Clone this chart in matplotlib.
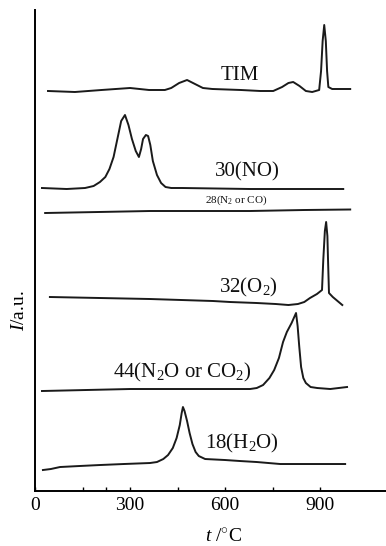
import matplotlib
matplotlib.use("Agg")
import matplotlib.pyplot as plt
from matplotlib.ticker import FixedLocator

plt.rcParams["font.family"] = "Liberation Serif"
plt.rcParams["mathtext.fontset"] = "custom"
plt.rcParams["mathtext.rm"] = "Liberation Serif"
plt.rcParams["mathtext.it"] = "Liberation Serif:italic"

# curves: temperature (°C) and intensity (a.u., stacked)
tim_t = [41, 126, 210, 300, 360, 410, 430, 455, 480, 505, 530, 560, 650, 711, 752,
         780, 800, 815, 835, 855, 875, 897, 903, 908, 913, 918, 922, 926, 938, 995]
tim_i = [400, 399, 401, 403, 401, 401, 403, 408, 411, 407, 403, 402, 401, 400, 400,
         404, 408, 409, 405, 400, 399, 401, 420, 450, 466, 450, 420, 404, 402, 402]

no_t = [22, 100, 158, 185, 205, 222, 235, 248, 260, 272, 284, 295, 306, 318, 328, 335,
        341, 350, 357, 364, 372, 385, 398, 412, 430, 464, 679, 973]
no_i = [303, 302, 303, 305, 309, 314, 322, 334, 352, 370, 376, 366, 352, 340, 334, 342,
        352, 356, 355, 346, 330, 316, 308, 304, 303, 303, 302, 302]

n2_t = [32, 200, 363, 500, 679, 850, 995]
n2_i = [278, 279, 280, 280, 280, 281, 281.5]

o2_t = [47, 363, 562, 616, 700, 760, 800, 830, 850, 868, 890, 906, 910, 915, 919, 923,
        925, 928, 940, 955, 970]
o2_i = [194, 192, 190, 189, 188, 187, 186, 187, 189, 193, 197, 201, 231, 260, 269, 255,
        231, 198, 194, 190, 186]

co2_t = [22, 300, 679, 700, 720, 740, 755, 770, 783, 795, 810, 824, 829, 834, 840, 847,
         855, 870, 891, 932, 985]
co2_i = [100, 102, 102, 103, 106, 113, 121, 133, 149, 159, 168, 178, 165, 145, 124, 113,
         108, 104, 103, 102, 104]

h2o_t = [25, 50, 79, 140, 205, 280, 363, 385, 405, 420, 435, 447, 457, 463, 467, 472,
         480, 488, 497, 507, 517, 537, 600, 647, 700, 774, 979]
h2o_i = [21, 22, 24, 25, 26, 27, 28, 29, 32, 36, 43, 53, 66, 78, 84, 80,
         70, 58, 47, 39, 35, 32, 31, 30, 29, 27, 27]

labels = ["TIM", "30(NO)", "28(N$_2$ or CO)", "32(O$_2$)", "44(N$_2$O or CO$_2$)", "18(H$_2$O)"]
label_t = [647, 669, 635, 673, 464, 654]
label_i = [415, 319, 291, 204, 119, 48]
label_size = [15, 15, 8, 15, 15, 15]

fig = plt.figure(figsize=(3.86, 5.46), dpi=100)
ax = fig.add_axes([0.0907, 0.1007, 0.9093, 0.881])

for t, i in [(tim_t, tim_i), (no_t, no_i), (n2_t, n2_i), (o2_t, o2_i),
             (co2_t, co2_i), (h2o_t, h2o_i)]:
    ax.plot(t, i, color="#1a1a1a", lw=1.4, solid_joinstyle="round")

for s, t, i, fs in zip(labels, label_t, label_i, label_size):
    ax.text(t, i, s, ha="center", va="center", fontsize=fs, color="#111111")

ax.set_xlim(0, 1108)
ax.set_ylim(0, 481)
ax.spines["top"].set_visible(False)
ax.spines["right"].set_visible(False)
ax.spines["left"].set_linewidth(1.4)
ax.spines["bottom"].set_linewidth(1.4)
ax.set_yticks([])
ax.set_xticks([0, 300, 600, 900])
ax.xaxis.set_minor_locator(FixedLocator([150, 225, 450, 750]))
ax.tick_params(axis="x", which="both", direction="in", length=3, width=1,
               labelsize=14, pad=4)

ax.text(-0.043, 0.376, "$I$/a.u.", transform=ax.transAxes, rotation=90,
        ha="center", va="center", fontsize=14)
ax.text(0.538, -0.096, "$t$ /$^{\\circ}$C", transform=ax.transAxes,
        ha="center", va="center", fontsize=14)

fig.savefig("out.png", dpi=100)
